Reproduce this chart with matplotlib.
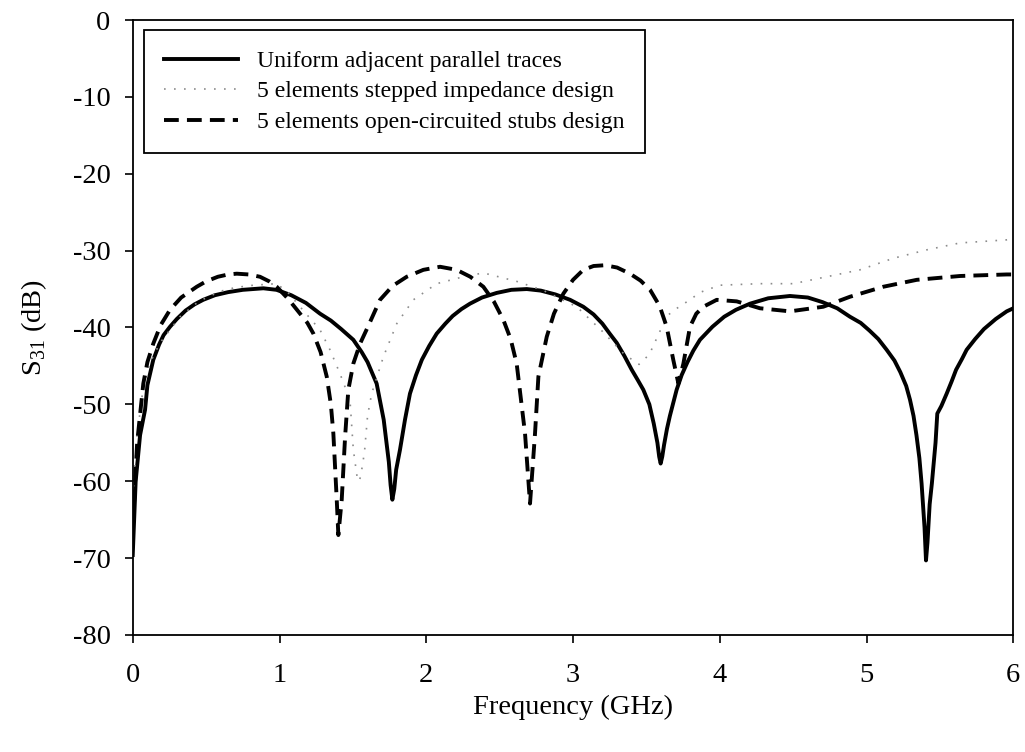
import numpy as np
import matplotlib
matplotlib.use('Agg')
import matplotlib.pyplot as plt

# S31 curves (frequency in GHz, level in dB)
freq_uniform = [0, 0.02, 0.05, 0.084, 0.1, 0.14, 0.18, 0.21, 0.254, 0.3, 0.36, 0.42, 0.48, 0.56, 0.65,
                0.75, 0.89, 0.98, 1.08, 1.18, 1.276, 1.35, 1.42, 1.503, 1.56, 1.6, 1.662, 1.71, 1.745,
                1.757, 1.769, 1.782, 1.795, 1.821, 1.855, 1.889, 1.93, 1.97, 2.02, 2.071, 2.13, 2.18,
                2.24, 2.298, 2.38, 2.48, 2.58, 2.685, 2.78, 2.88, 2.98, 3.07, 3.14, 3.2, 3.25, 3.298,
                3.35, 3.4, 3.44, 3.479, 3.52, 3.55, 3.575, 3.587, 3.597, 3.608, 3.62, 3.64, 3.66, 3.706,
                3.74, 3.78, 3.82, 3.865, 3.95, 4.03, 4.11, 4.206, 4.33, 4.478, 4.6, 4.7, 4.8, 4.887,
                4.96, 5.02, 5.08, 5.137, 5.19, 5.23, 5.27, 5.296, 5.32, 5.34, 5.36, 5.375, 5.395, 5.405,
                5.415, 5.43, 5.445, 5.47, 5.482, 5.51, 5.546, 5.58, 5.61, 5.65, 5.682, 5.74, 5.8, 5.88,
                5.955, 6.0]
s31_uniform = [-69.6, -60, -54, -50.7, -47.5, -44.2, -42.2, -41, -39.9, -38.9, -37.8, -37.0, -36.4, -35.8, -35.4,
               -35.1, -34.9, -35.1, -35.8, -36.8, -38.2, -39.1, -40.2, -41.6, -43.2, -44.5, -47.3, -52, -57.5,
               -60.5, -62.4, -61, -58.5, -55.9, -52, -48.6, -46.2, -44.2, -42.4, -40.8, -39.5, -38.5,
               -37.6, -36.9, -36.1, -35.5, -35.1, -35.0, -35.2, -35.7, -36.4, -37.3, -38.3, -39.5, -40.8, -42.0,
               -43.7, -45.5, -46.8, -48.1, -50, -52.5, -55, -56.8, -57.7, -56.8, -55.3, -53.2, -51.5, -48.1,
               -46.2, -44.5, -43, -41.6, -39.9, -38.6, -37.7, -36.9, -36.2, -35.9, -36.1, -36.7, -37.5, -38.6,
               -39.4, -40.4, -41.5, -42.9, -44.3, -45.8, -47.6, -49.4, -51.5, -54, -57, -60.3, -66, -70.3,
               -68, -63, -60.3, -55, -51.2, -50.2, -48.6, -47, -45.5, -44.1, -42.9, -41.5, -40.2, -38.9,
               -37.9, -37.5]

freq_stepped = [0, 0.03, 0.07, 0.12, 0.186, 0.322, 0.45, 0.595, 0.7, 0.822, 0.981, 1.06, 1.14, 1.276, 1.344,
                1.412, 1.48, 1.503, 1.53, 1.545, 1.565, 1.58, 1.6, 1.628, 1.708, 1.799, 1.912, 2.071,
                2.253, 2.389, 2.616, 2.8, 3.025, 3.2, 3.35, 3.45, 3.52, 3.58, 3.64, 3.7, 3.78, 3.87,
                4.0, 4.274, 4.501, 4.728, 4.955, 5.182, 5.41, 5.637, 5.955, 6.0]
s31_stepped = [-62, -54, -48, -44.5, -42, -38.6, -36.6, -35.3, -34.8, -34.5, -34.3, -35.5, -37.3, -40.3, -42.9,
               -46, -49.4, -55.9, -59.6, -60, -58, -56, -51.5, -48.6, -43.8, -39.5, -36.4, -34.3,
               -33.4, -32.9, -34.0, -35.2, -37.3, -40.5, -43.5, -44.8, -43.5, -41, -38.5, -37.6, -36.6, -35.4,
               -34.5, -34.3, -34.3, -33.4, -32.5, -31.0, -29.9, -29.0, -28.6, -28.5]

freq_stubs = [0, 0.03, 0.072, 0.1, 0.14, 0.19, 0.254, 0.33, 0.436, 0.5, 0.58, 0.65, 0.709, 0.79, 0.867,
              0.93, 0.981, 1.06, 1.14, 1.19, 1.231, 1.28, 1.322, 1.35, 1.367, 1.39, 1.401, 1.424, 1.447,
              1.469, 1.503, 1.549, 1.6, 1.685, 1.77, 1.867, 1.98, 2.094, 2.207, 2.3, 2.389, 2.46, 2.525,
              2.575, 2.616, 2.673, 2.707, 2.741, 2.764, 2.821, 2.87, 2.934, 3.0, 3.07, 3.14, 3.218, 3.3,
              3.388, 3.46, 3.525, 3.59, 3.638, 3.683, 3.718, 3.752, 3.797, 3.84, 3.888, 3.979, 4.115,
              4.274, 4.478, 4.705, 4.887, 5.114, 5.342, 5.637, 5.955, 6.0]
s31_stubs = [-66, -55, -47.3, -44.5, -42.1, -39.7, -37.7, -36.1, -34.7, -34.0, -33.4, -33.1, -33.0, -33.1, -33.4,
             -34.0, -34.7, -36.3, -38.2, -39.4, -40.8, -43.2, -46.4, -50, -53.8, -62.4, -67.0, -62.4, -54.2,
             -48.1, -44.7, -42.1, -40, -36.4, -34.6, -33.4, -32.5, -32.1, -32.5, -33.4, -34.7, -36.6, -39.0,
             -41.5, -44.7, -53.8, -62.9, -53.8, -46.4, -41.2, -38.2, -35.6, -33.8, -32.5, -32.0, -31.9, -32.2,
             -33.0, -33.9, -35.1, -37.2, -39.9, -44.2, -47.3, -44.7, -39.9, -38.2, -37.3, -36.4, -36.6,
             -37.5, -37.9, -37.3, -36.0, -34.7, -33.8, -33.3, -33.1, -33.1]

labels = ['Uniform adjacent parallel traces',
          '5 elements stepped impedance design',
          '5 elements open-circuited stubs design']

plt.rcParams['font.family'] = ['Liberation Serif', 'DejaVu Serif']
plt.rcParams['mathtext.fontset'] = 'custom'
plt.rcParams['mathtext.rm'] = 'Liberation Serif'
plt.rcParams['axes.unicode_minus'] = False
plt.rcParams['font.size'] = 20.5

fig = plt.figure(figsize=(10.25, 7.52), dpi=100)
ax = fig.add_axes([0.1295, 0.1556, 0.8591, 0.8178])

ax.plot(freq_uniform, s31_uniform, color='k', linewidth=2.8, label=labels[0])
ax.plot(freq_stepped, s31_stepped, color='0.55', linewidth=1.2, linestyle=(0, (1, 5)), label=labels[1])
ax.plot(freq_stubs, s31_stubs, color='k', linewidth=2.8, linestyle=(0, (3.8, 2.1)), label=labels[2])

ax.set_xlim(0, 6)
ax.set_ylim(-80, 0)
ax.set_xticks(np.arange(0, 7, 1))
ax.set_yticks(np.arange(-80, 1, 10))
ax.tick_params(direction='out', length=6, width=1.2, top=False, right=False)
ax.tick_params(axis='x', pad=14)
ax.tick_params(axis='y', pad=10)
for sp in ax.spines.values():
    sp.set_linewidth(1.3)

ax.set_xlabel('Frequency (GHz)', labelpad=5)
ax.set_ylabel('S$_{\\mathregular{31}}$ (dB)', labelpad=17)

leg = ax.legend(loc='upper left', bbox_to_anchor=(0.0128, 0.9837), borderaxespad=0,
                fontsize=17.1, frameon=True, fancybox=False, framealpha=1,
                edgecolor='k', handlelength=3.1, handletextpad=0.8, borderpad=0.85,
                labelspacing=0.38)
leg.get_frame().set_linewidth(1.3)

fig.savefig('out.png', dpi=100)
